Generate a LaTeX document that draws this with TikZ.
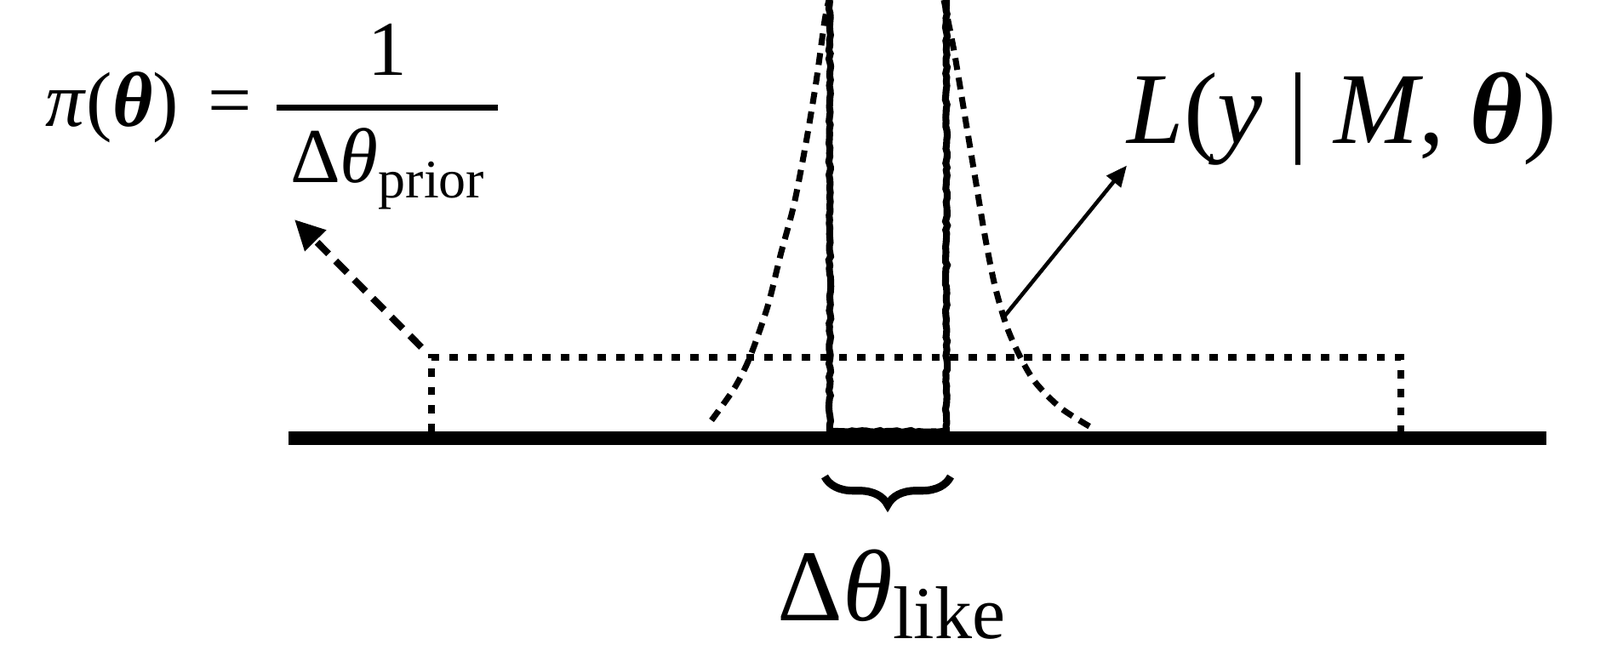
\documentclass[tikz,border=0pt]{standalone}
\usepackage{amsmath}
\usepackage{fontspec}
\setmainfont{Liberation Serif}
\usepackage{tikz}
\usetikzlibrary{arrows.meta,decorations.pathmorphing,decorations.pathreplacing}
\tikzset{
  eje/.style={line width=4.4pt},
  previa/.style={line width=2.4pt,dash pattern=on 2.8pt off 3.4pt},
  curva/.style={line width=2pt,dash pattern=on 4pt off 2.6pt},
  pico/.style={line width=2.3pt,decorate,
    decoration={random steps,segment length=1.5pt,amplitude=0.35pt}},
  etiqueta/.style={font=\fontsize{34}{40}\selectfont,inner sep=0pt}
}

\begin{document}
\begin{tikzpicture}[
  x=1cm,y=1cm,
  flechaprevia/.style={line width=2.3pt,dash pattern=on 5.4pt off 3.4pt,
    -{Triangle[length=10pt,width=9.5pt]}},
  flechavero/.style={line width=1.3pt,-{Triangle[length=7pt,width=6pt]}},
  llave/.style={line width=2.6pt,decorate,
    decoration={brace,mirror,amplitude=9.5pt}}
]
\useasboundingbox (0,0) rectangle (18.8,-7.7);

% 1. Verosimilitud estrecha (pico)
\draw[pico] (9.75,0) -- (9.75,-5.07) -- (11.12,-5.07) -- (11.12,0);

% 2. Eje del parametro
\coordinate (ejeI) at (3.39,-5.15);
\coordinate (ejeD) at (18.17,-5.15);
\draw[eje] (ejeI) -- (ejeD);

% 3. Previa uniforme
\coordinate (previaA) at (5.07,-5.08);
\coordinate (previaB) at (5.07,-4.20);
\coordinate (previaC) at (16.46,-4.20);
\coordinate (previaD) at (16.46,-5.08);
\draw[previa] (previaA) -- (previaB) -- (previaC) -- (previaD);

% 4. Curva de verosimilitud
\draw[curva] plot[smooth] coordinates {(8.36,-4.94) (8.63,-4.56) (8.81,-4.20)
  (9.02,-3.60) (9.17,-3.00) (9.33,-2.40) (9.47,-1.68) (9.59,-0.96) (9.69,-0.24) (9.74,0)};
\draw[curva] plot[smooth] coordinates {(11.09,0) (11.21,-0.60) (11.33,-1.32)
  (11.45,-2.04) (11.57,-2.76) (11.69,-3.36) (11.83,-3.84) (11.99,-4.20)
  (12.17,-4.50) (12.47,-4.80) (12.85,-5.04)};

% 5. Etiquetas
\node[etiqueta,font=\fontsize{26}{30}\selectfont,anchor=base west] (prioreq) at (0.53,-1.48)
  {\textit{π}(\textbf{\textit{θ}})\hspace{10pt}=\hspace{7pt}$\genfrac{}{}{2pt}{0}{\hbox{1}}%
   {\hbox{\kern4.5pt Δ\textit{θ}\raisebox{-5pt}{\fontsize{18.2}{20}\selectfont prior}\kern4.5pt}}$};
\node[etiqueta,anchor=base west] (likeeq) at (13.24,-1.68)
  {\textit{L}(\textit{y} | \textit{M}, \textbf{\textit{θ}})};

\coordinate (previasal) at (4.95,-4.08);
\coordinate (previapunta) at (3.46,-2.58);
\draw[flechaprevia] (previasal) -- (previapunta);

\coordinate (verobase) at (11.80,-3.72);
\draw[flechavero] (verobase) -- (likeeq.south west);

% 6. Ancho de la verosimilitud
\coordinate (llaveI) at (9.69,-5.60);
\coordinate (llaveD) at (11.17,-5.60);
\draw[llave] (llaveI) -- (llaveD);
\node[etiqueta,anchor=base west] (anchovero) at (9.13,-7.29)
  {Δ\textit{θ}\raisebox{-6pt}{\fontsize{25}{28}\selectfont like}};

\end{tikzpicture}
\end{document}
